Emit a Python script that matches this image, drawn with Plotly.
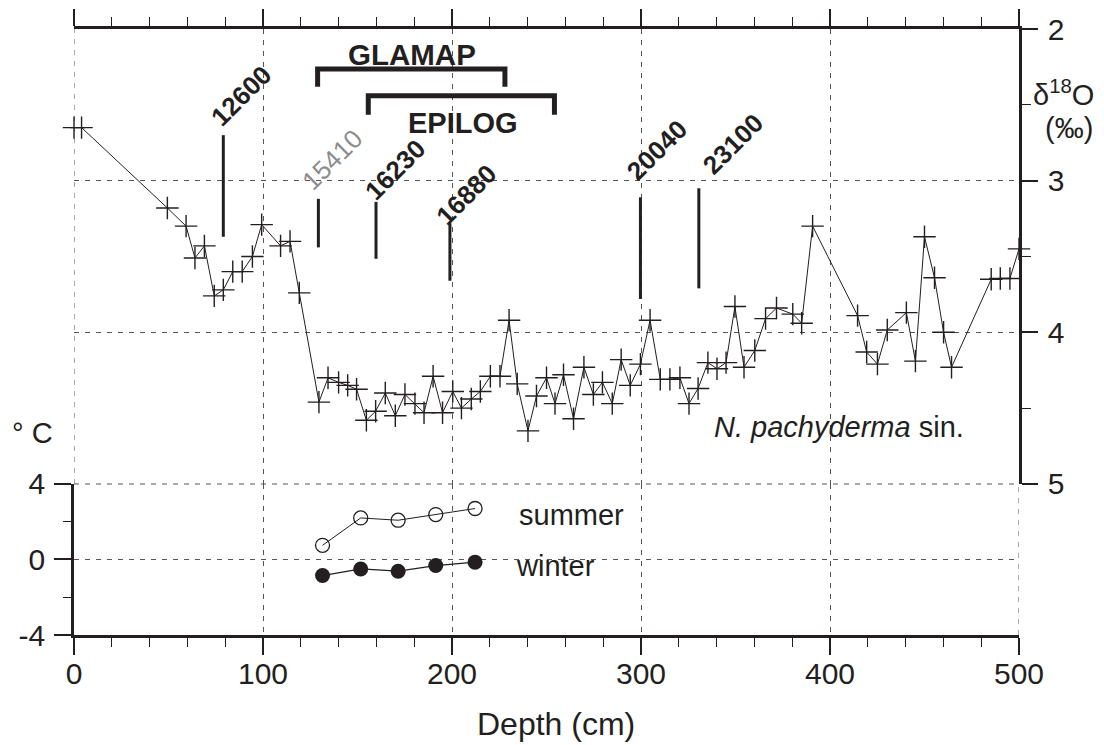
import plotly.graph_objects as go

# ---------------- data ----------------
depth_d18o = [0, 4, 49.4, 59.3, 64, 69, 74.2, 79, 84, 89, 94.4, 99.3, 109.3, 114.3, 119.2,
              129.6, 134.4, 140, 144.8, 149.5, 154.7, 159.6, 164.7, 170, 175.1, 180.4, 185.2,
              190, 195, 200.4, 205, 210.2, 215, 220.3, 225.4, 230.2, 234.5, 240.2, 244.7, 250,
              254.5, 259, 264.3, 269.8, 274.8, 279.6, 284.8, 289.5, 294.3, 299.7, 304.8, 310.2,
              315.3, 320.6, 325.4, 330.2, 335.4, 340.2, 345, 349.7, 354.5, 360.2, 365.9, 371.7,
              380.3, 385, 390.8, 414.6, 419.4, 425.1, 430.3, 440.4, 445.2, 450, 455.3, 460.1,
              464.3, 485.3, 490.1, 495.2, 500]
d18o = [2.65, 2.65, 3.18, 3.30, 3.51, 3.43, 3.76, 3.72, 3.60, 3.60, 3.50, 3.29, 3.43, 3.40, 3.74,
        4.46, 4.30, 4.33, 4.35, 4.375, 4.58, 4.52, 4.40, 4.55, 4.41, 4.47, 4.53,
        4.29, 4.53, 4.39, 4.50, 4.44, 4.39, 4.29, 4.29, 3.92, 4.34, 4.65, 4.42, 4.30,
        4.47, 4.28, 4.57, 4.23, 4.41, 4.33, 4.47, 4.18, 4.35, 4.21, 3.92, 4.31,
        4.31, 4.30, 4.47, 4.37, 4.20, 4.24, 4.20, 3.83, 4.23, 4.12, 3.91, 3.84,
        3.88, 3.94, 3.30, 3.89, 4.13, 4.21, 3.985, 3.87, 4.19, 3.37, 3.64, 4.00,
        4.23, 3.65, 3.645, 3.645, 3.45]

depth_temp = [131.5, 151.7, 171.5, 191.4, 212.2]
temp_summer = [0.75, 2.2, 2.08, 2.38, 2.7]
temp_winter = [-0.85, -0.5, -0.62, -0.32, -0.14]

# AMS 14C ages: depth of marker, top and bottom of marker bar (d18O units)
age_labels = ["12600", "15410", "16230", "16880", "20040", "23100"]
age_depth = [79, 129.3, 159.8, 198.9, 299.7, 330.6]
age_bar_top = [2.70, 3.12, 3.14, 3.28, 3.11, 3.05]
age_bar_bottom = [3.37, 3.44, 3.515, 3.66, 3.78, 3.71]
age_label_x = [88.4, 136.5, 169.8, 207.4, 308.6, 348.7]
age_label_y = [2.44, 2.862, 2.928, 3.092, 2.80, 2.76]

# time slice brackets (depth ranges)
glamap_range = [128.9, 228.0]
epilog_range = [155.7, 254.2]

x_ticks = [0, 100, 200, 300, 400, 500]
d18o_ticks = [2, 3, 4, 5]
temp_ticks = [-4, 0, 4]
temp_ticktext = ["-4", "0", "4"]

# ---------------- figure ----------------
INK = "#231f20"
FONT = "Liberation Sans, Arial, Helvetica, sans-serif"
GRID = "#555555"
DASH = "5px,6px"

fig = go.Figure()

# d18O record
fig.add_trace(go.Scatter(
    x=depth_d18o, y=d18o, xaxis="x2", yaxis="y2", mode="lines+markers",
    line=dict(color=INK, width=1),
    marker=dict(symbol="cross-thin", size=16, line=dict(color=INK, width=1.4)),
    cliponaxis=False, showlegend=False, hoverinfo="x+y"))

# age marker bars
for d, t, b in zip(age_depth, age_bar_top, age_bar_bottom):
    fig.add_trace(go.Scatter(x=[d, d], y=[t, b], xaxis="x2", yaxis="y2", mode="lines",
                             line=dict(color=INK, width=3), showlegend=False, hoverinfo="skip"))

# brackets
for rng, top, bot in [(glamap_range, 2.263, 2.38), (epilog_range, 2.44, 2.566)]:
    fig.add_trace(go.Scatter(x=[rng[0], rng[0], rng[1], rng[1]], y=[bot, top, top, bot],
                             xaxis="x2", yaxis="y2", mode="lines",
                             line=dict(color=INK, width=5), showlegend=False, hoverinfo="skip"))

# temperatures
fig.add_trace(go.Scatter(x=depth_temp, y=temp_summer, xaxis="x", yaxis="y", mode="lines+markers",
                         line=dict(color=INK, width=1),
                         marker=dict(symbol="circle-open", size=14, color=INK, line=dict(width=1.3)),
                         showlegend=False))
fig.add_trace(go.Scatter(x=depth_temp, y=temp_winter, xaxis="x", yaxis="y", mode="lines+markers",
                         line=dict(color=INK, width=1.2),
                         marker=dict(symbol="circle", size=15, color=INK),
                         showlegend=False))

ann = []
for lab, ax_, ay_ in zip(age_labels, age_label_x, age_label_y):
    grey = lab == "15410"
    ann.append(dict(x=ax_, y=ay_, xref="x2", yref="y2", text=lab if grey else "<b>%s</b>" % lab,
                    showarrow=False, textangle=-45, xanchor="center", yanchor="middle",
                    font=dict(size=26, color="#8c8c8c" if grey else INK, family=FONT)))

ann += [
    dict(x=178.7, y=2.171, xref="x2", yref="y2", text="<b>GLAMAP</b>", showarrow=False,
         font=dict(size=29.5, color=INK, family=FONT)),
    dict(x=205.6, y=2.618, xref="x2", yref="y2", text="<b>EPILOG</b>", showarrow=False,
         font=dict(size=29, color=INK, family=FONT)),
    dict(x=337.3, y=4.625, xref="x2", yref="y2", text="<i>N. pachyderma</i> sin.", showarrow=False,
         xanchor="left", font=dict(size=29, color=INK, family=FONT)),
    dict(x=234.4, y=2.36, xref="x", yref="y", text="summer", showarrow=False, xanchor="left",
         font=dict(size=29, color=INK, family=FONT)),
    dict(x=232.8, y=-0.35, xref="x", yref="y", text="winter", showarrow=False, xanchor="left",
         font=dict(size=29, color=INK, family=FONT)),
    dict(x=1.0476, y=0.894, xref="paper", yref="paper", text="δ<sup>18</sup>O", showarrow=False,
         xanchor="center", yanchor="middle", font=dict(size=29, color=INK, family=FONT)),
    dict(x=1.0529, y=0.8366, xref="paper", yref="paper", text="(‰)", showarrow=False,
         xanchor="center", yanchor="middle", font=dict(size=29, color=INK, family=FONT)),
    dict(x=-0.0434, y=0.3333, xref="paper", yref="paper", text="° C", showarrow=False,
         xanchor="center", yanchor="middle", font=dict(size=29, color=INK, family=FONT)),
    dict(x=0.510, y=-0.1469, xref="paper", yref="paper", text="Depth (cm)", showarrow=False,
         xanchor="center", yanchor="middle", font=dict(size=32, color=INK, family=FONT)),
]

dom_split = 0.2492

# grid lines at the panel edges (plotly skips grid lines that sit on the range ends)
edge_grid = dict(color=GRID, width=1, dash=DASH)
shapes = [
    dict(type="line", xref="x", yref="paper", x0=0, x1=0, y0=dom_split, y1=1,
         line=edge_grid, layer="below"),
    dict(type="line", xref="x", yref="paper", x0=500, x1=500, y0=0, y1=dom_split,
         line=edge_grid, layer="below"),
    dict(type="line", xref="x", yref="paper", x0=0, x1=500, y0=dom_split, y1=dom_split,
         line=edge_grid, layer="below"),
]

common_x = dict(range=[0, 500], domain=[0, 1], showline=True, linecolor=INK, linewidth=2.5,
                ticks="outside", ticklen=17, tickwidth=1.8, tickcolor=INK, automargin=False,
                tickvals=x_ticks, showgrid=True, gridcolor=GRID, gridwidth=1, griddash=DASH,
                zeroline=False,
                minor=dict(dtick=20, tick0=0, ticklen=9, tickwidth=1.4, tickcolor=INK, showgrid=False,
                           ticks="outside"))

# the page body adds an 8px offset; compensate so the plot area sits where the reference has it
fig.update_layout(
    width=1096, height=737,
    margin=dict(l=66, r=85, t=21, b=110, autoexpand=False),
    paper_bgcolor="white", plot_bgcolor="white",
    font=dict(family=FONT, color=INK, size=28),
    xaxis=dict(**common_x, anchor="y", side="bottom", showticklabels=True,
               ticklabelstandoff=-7,
               tickfont=dict(size=30, color=INK, family=FONT)),
    xaxis2=dict(**common_x, anchor="y2", side="top", showticklabels=False),
    yaxis=dict(domain=[0, dom_split], range=[-4, 4], anchor="x", side="left", automargin=False,
               showline=True, linecolor=INK, linewidth=2.5, ticks="outside", ticklen=17,
               tickwidth=1.8, tickcolor=INK, tickvals=temp_ticks, ticktext=temp_ticktext,
               ticklabelstandoff=3,
               tickfont=dict(size=30, color=INK, family=FONT),
               showgrid=True, gridcolor=GRID, gridwidth=1, griddash=DASH, zeroline=False,
               minor=dict(tickvals=[-2, 2], ticklen=8, tickwidth=1.4, tickcolor=INK,
                          showgrid=False, ticks="outside")),
    yaxis2=dict(domain=[dom_split, 1], range=[5, 2], anchor="x2", side="right", automargin=False,
                showline=True, linecolor=INK, linewidth=2.5, ticks="outside", ticklen=16,
                tickwidth=1.8, tickcolor=INK, tickvals=d18o_ticks,
                ticklabelstandoff=4,
                tickfont=dict(size=30, color=INK, family=FONT),
                showgrid=True, gridcolor=GRID, gridwidth=1, griddash=DASH, zeroline=False,
                minor=dict(tickvals=[2.5, 3.5, 4.5], ticklen=9, tickwidth=1.4, tickcolor=INK,
                           showgrid=False, ticks="outside")),
    annotations=ann,
    shapes=shapes,
)

fig.write_html("out.html")
